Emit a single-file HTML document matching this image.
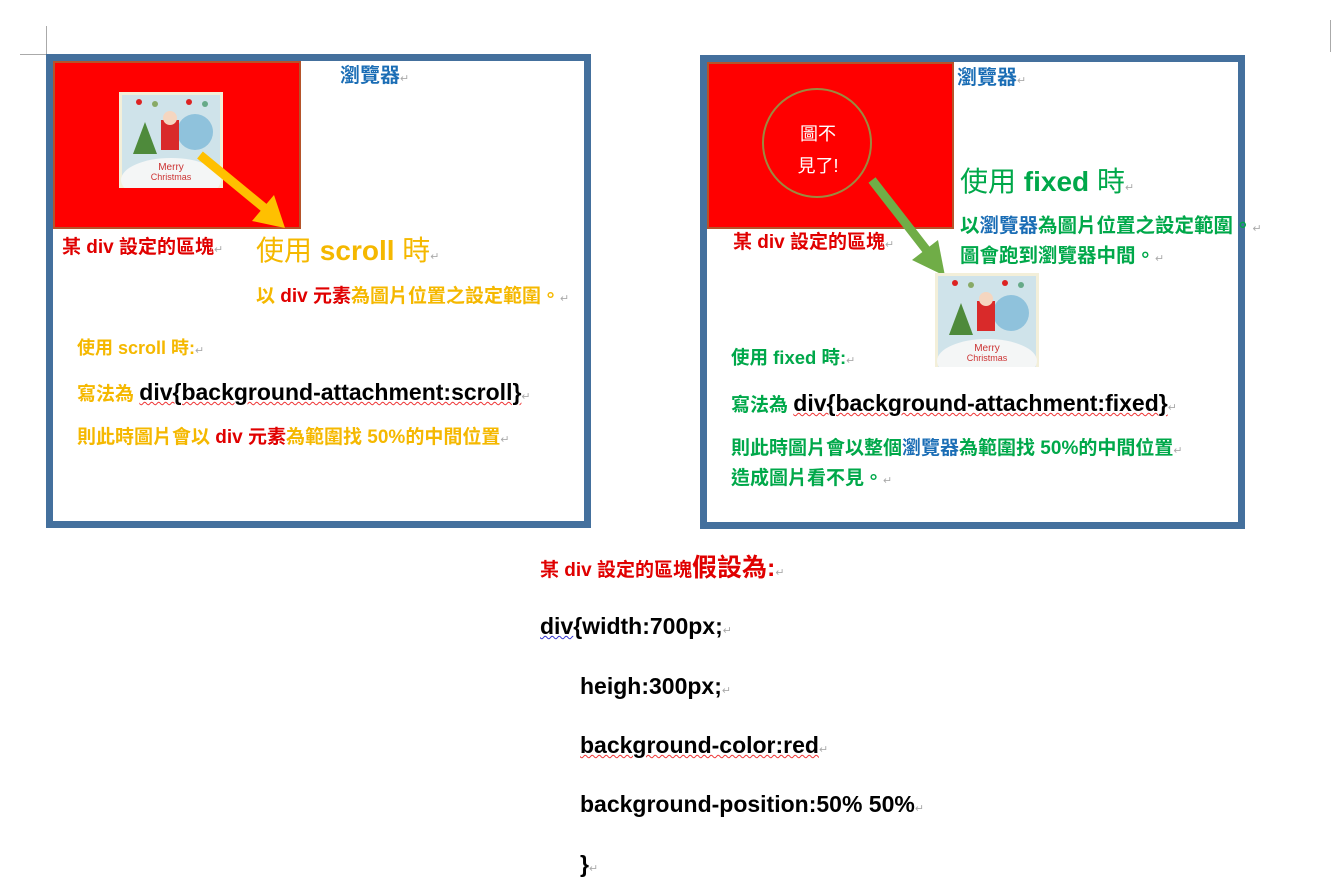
<!DOCTYPE html>
<html><head><meta charset="utf-8">
<style>
html,body{margin:0;padding:0;background:#fff;}
body{width:1335px;height:891px;position:relative;overflow:hidden;font-family:"Liberation Sans","Noto Sans CJK TC",sans-serif;}
.t{position:absolute;white-space:nowrap;line-height:1;font-weight:bold;}
.box{position:absolute;border:7px solid #44709d;box-sizing:border-box;background:#fff;}
.red{position:absolute;background:#ff0000;border:2px solid #b5542a;box-sizing:border-box;}
.pm{color:#aaa;font-size:11px;font-weight:normal;}
.y{color:#f5b800}.r{color:#e00000}.b{color:#1a6db5}.g{color:#00a84a}.k{color:#000}
.sq{text-decoration:underline wavy #e33;text-decoration-thickness:1px;}
.pic{position:absolute;}
</style></head><body>
<div style="position:absolute;left:20px;top:54px;width:26px;height:1px;background:#aaa"></div>
<div style="position:absolute;left:46px;top:26px;width:1px;height:28px;background:#aaa"></div>
<div style="position:absolute;left:1330px;top:20px;width:1px;height:32px;background:#aaa"></div>

<!-- LEFT BOX -->
<div class="box" style="left:46px;top:54px;width:545px;height:474px"></div>
<div class="red" style="left:53px;top:61px;width:248px;height:168px"></div>
<svg class="pic" style="left:119px;top:92px" width="104" height="96" viewBox="0 0 104 96">
 <rect width="104" height="96" fill="#f3efd9"/><rect x="3" y="3" width="98" height="90" fill="#cfe3ea"/>
 <ellipse cx="52" cy="88" rx="50" ry="22" fill="#f4f6f6"/>
 <polygon points="26,30 14,62 38,62" fill="#4e8a3b"/>
 <circle cx="76" cy="40" r="18" fill="#8fc2dc"/>
 <rect x="42" y="28" width="18" height="30" fill="#d92a2a"/><circle cx="51" cy="26" r="7" fill="#f5d6c0"/>
 <circle cx="20" cy="10" r="3" fill="#d22"/><circle cx="36" cy="12" r="3" fill="#8a6"/><circle cx="70" cy="10" r="3" fill="#d22"/><circle cx="86" cy="12" r="3" fill="#6a8"/>
 <text x="52" y="78" font-size="10" fill="#c33" text-anchor="middle" font-family="Liberation Sans">Merry</text>
 <text x="52" y="88" font-size="9" fill="#c33" text-anchor="middle" font-family="Liberation Sans">Christmas</text>
</svg>
<svg class="pic" style="left:190px;top:145px" width="120" height="95">
 <line x1="10" y1="10" x2="78" y2="66" stroke="#ffc000" stroke-width="9"/>
 <polygon points="95,83 62,76 84,50" fill="#ffc000"/>
</svg>
<div class="t b" style="left:340px;top:66px;font-size:20px">瀏覽器<span class="pm">↵</span></div>
<div class="t r" style="left:62px;top:238px;font-size:19px">某 div 設定的區塊<span class="pm">↵</span></div>
<div class="t y" style="left:256px;top:237px;font-size:28px"><span style="font-weight:normal">使用</span> scroll <span style="font-weight:normal">時</span><span class="pm">↵</span></div>
<div class="t y" style="left:256px;top:287px;font-size:19px">以 <span class="r">div 元素</span>為圖片位置之設定範圍。<span class="pm">↵</span></div>
<div class="t y" style="left:77px;top:339px;font-size:18px">使用 scroll 時:<span class="pm">↵</span></div>
<div class="t y" style="left:77px;top:381px;font-size:19px">寫法為 <span class="k sq" style="font-size:23px">div{background-attachment:scroll}</span><span class="pm">↵</span></div>
<div class="t y" style="left:77px;top:428px;font-size:19px">則此時圖片會以 <span class="r">div 元素</span>為範圍找 50%的中間位置<span class="pm">↵</span></div>

<!-- RIGHT BOX -->
<div class="box" style="left:700px;top:55px;width:545px;height:474px"></div>
<div class="red" style="left:707px;top:62px;width:247px;height:167px"></div>
<div style="position:absolute;left:762px;top:88px;width:110px;height:110px;border:2px solid #9a8a40;border-radius:50%;box-sizing:border-box"></div>
<div class="t" style="left:786px;top:118px;width:64px;text-align:center;color:#fff;font-size:18px;font-weight:normal;line-height:32px;white-space:normal">圖不<br>見了!</div>
<svg class="pic" style="left:860px;top:170px" width="100" height="115">
 <line x1="12" y1="10" x2="68" y2="82" stroke="#70ad47" stroke-width="9"/>
 <polygon points="85,106 52,90 78,70" fill="#70ad47"/>
</svg>
<svg class="pic" style="left:935px;top:273px" width="104" height="94" viewBox="0 0 104 94">
 <rect width="104" height="94" fill="#f3efd9"/><rect x="3" y="3" width="98" height="91" fill="#cfe3ea"/>
 <ellipse cx="52" cy="88" rx="50" ry="22" fill="#f4f6f6"/>
 <polygon points="26,30 14,62 38,62" fill="#4e8a3b"/>
 <circle cx="76" cy="40" r="18" fill="#8fc2dc"/>
 <rect x="42" y="28" width="18" height="30" fill="#d92a2a"/><circle cx="51" cy="26" r="7" fill="#f5d6c0"/>
 <circle cx="20" cy="10" r="3" fill="#d22"/><circle cx="36" cy="12" r="3" fill="#8a6"/><circle cx="70" cy="10" r="3" fill="#d22"/><circle cx="86" cy="12" r="3" fill="#6a8"/>
 <text x="52" y="78" font-size="10" fill="#c33" text-anchor="middle" font-family="Liberation Sans">Merry</text>
 <text x="52" y="88" font-size="9" fill="#c33" text-anchor="middle" font-family="Liberation Sans">Christmas</text>
</svg>
<div class="t b" style="left:957px;top:68px;font-size:20px">瀏覽器<span class="pm">↵</span></div>
<div class="t g" style="left:960px;top:168px;font-size:28px"><span style="font-weight:normal">使用</span> fixed <span style="font-weight:normal">時</span><span class="pm">↵</span></div>
<div class="t g" style="left:960px;top:217px;font-size:19.5px">以<span class="b">瀏覽器</span>為圖片位置之設定範圍。<span class="pm">↵</span></div>
<div class="t g" style="left:960px;top:247px;font-size:19.5px">圖會跑到瀏覽器中間。<span class="pm">↵</span></div>
<div class="t r" style="left:733px;top:233px;font-size:19px">某 div 設定的區塊<span class="pm">↵</span></div>
<div class="t g" style="left:731px;top:349px;font-size:18.5px">使用 fixed 時:<span class="pm">↵</span></div>
<div class="t g" style="left:731px;top:392px;font-size:19px">寫法為 <span class="k sq" style="font-size:23px">div{background-attachment:fixed}</span><span class="pm">↵</span></div>
<div class="t g" style="left:731px;top:439px;font-size:19px">則此時圖片會以整個<span class="b">瀏覽器</span>為範圍找 50%的中間位置<span class="pm">↵</span></div>
<div class="t g" style="left:731px;top:469px;font-size:19px">造成圖片看不見。<span class="pm">↵</span></div>

<!-- BOTTOM CODE -->
<div class="t r" style="left:540px;top:556px;font-size:19px">某 div 設定的區塊<span style="font-size:25px">假設為:</span><span class="pm">↵</span></div>
<div class="t k" style="left:540px;top:615px;font-size:23px"><span style="text-decoration:underline wavy #33c;text-decoration-thickness:1px">div</span>{width:700px;<span class="pm">↵</span></div>
<div class="t k" style="left:580px;top:675px;font-size:23px">heigh:300px;<span class="pm">↵</span></div>
<div class="t k" style="left:580px;top:734px;font-size:23px"><span class="sq">background-color:red</span><span class="pm">↵</span></div>
<div class="t k" style="left:580px;top:793px;font-size:23px">background-position:50% 50%<span class="pm">↵</span></div>
<div class="t k" style="left:580px;top:853px;font-size:23px">}<span class="pm">↵</span></div>
</body></html>
